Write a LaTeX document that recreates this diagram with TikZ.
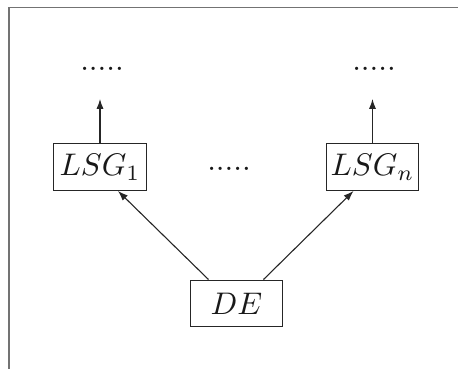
\documentclass[tikz,border=0pt]{standalone}
\usetikzlibrary{arrows.meta}
\begin{document}
\begin{tikzpicture}[x=0.32pt,y=-0.32pt,
  blk/.style={draw=black!85,line width=0.35pt,minimum width=29.6pt,minimum height=15pt,inner sep=0pt,text=black!90},
  arr/.style={draw=black!85,line width=0.35pt,-{Latex[length=3.2pt,width=2.3pt]}},
  dots/.style={inner sep=0pt,text=black!90},
  frame/.style={draw=black!55,line width=0.5pt}]
\useasboundingbox (0,0) rectangle (458,369);
\coordinate (ftop) at (458,7.5);
\coordinate (fcorner) at (9,7.5);
\coordinate (fbot) at (9,369);
\draw[frame] (ftop) -- (fcorner) -- (fbot);
\node[blk] (LSG1) at (100,167) {$LSG_1$};
\node[blk] (LSGn) at (372.5,167) {$LSG_n$};
\node[blk] (DE) at (236.5,303.5) {$DE$};
\node[dots] (d1) at (102,69) {.....};
\node[dots] (dn) at (374,69) {.....};
\node[dots] (dm) at (229,169) {.....};
\coordinate (t1) at (100,99);
\coordinate (tn) at (372.5,99);
\draw[arr] (LSG1.north) -- (t1);
\draw[arr] (LSGn.north) -- (tn);
\draw[arr] ([xshift=-28*0.32pt]DE.north) -- ([xshift=18*0.32pt]LSG1.south);
\draw[arr] ([xshift=27*0.32pt]DE.north) -- ([xshift=-19*0.32pt]LSGn.south);
\end{tikzpicture}
\end{document}
